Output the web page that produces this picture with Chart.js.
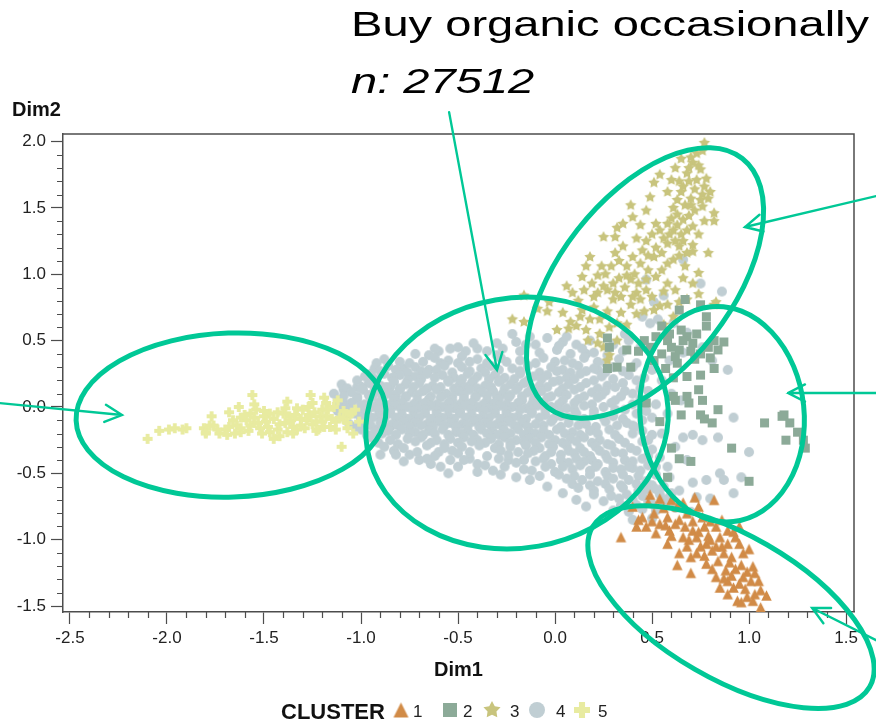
<!DOCTYPE html>
<html>
<head>
<meta charset="utf-8">
<script src="https://cdn.jsdelivr.net/npm/chart.js@4.4.1/dist/chart.umd.min.js"></script>
<style>
  html, body { margin: 0; padding: 0; background: #ffffff; }
  canvas { display: block; }
</style>
</head>
<body>
<canvas id="chart" width="876" height="726"></canvas>
<script>
// ---- Axis ticks -----------------------------------------------------------
const xMajorTicks = [-2.5, -2.0, -1.5, -1.0, -0.5, 0.0, 0.5, 1.0, 1.5];
const yMajorTicks = [-1.5, -1.0, -0.5, 0.0, 0.5, 1.0, 1.5, 2.0];
const xLimits = [-2.536, 1.541];
const yLimits = [-1.545, 2.057];

// ---- Cluster labels ---------------------------------------------------------
const clusterLabels = ['1', '2', '3', '4', '5'];

// ---- Cluster members (Dim1, Dim2) ------------------------------------------
const cluster1Points = [
  [0.49,-0.66],[0.54,-0.69],[0.40,-0.75],[0.34,-0.98],[0.43,-0.85],[0.47,-0.90],[0.51,-0.80],[0.54,-0.88],
  [0.58,-0.83],[0.59,-0.93],[0.63,-0.75],[0.64,-0.85],[0.67,-0.90],[0.62,-0.88],[0.66,-0.98],[0.69,-1.00],
  [0.71,-0.93],[0.73,-0.98],[0.74,-0.75],[0.77,-0.90],[0.78,-1.03],[0.79,-0.97],[0.82,-0.70],[0.83,-0.90],
  [0.83,-1.05],[0.85,-0.98],[0.87,-1.10],[0.89,-0.93],[0.89,-1.03],[0.91,-1.13],[0.93,-0.98],[0.95,-0.90],
  [0.95,-1.03],[0.97,-1.10],[0.96,-1.19],[1.00,-1.07],[0.99,-1.24],[1.02,-1.20],[1.01,-1.31],[1.05,-1.31],
  [1.06,-1.38],[1.03,-1.41],[1.09,-1.42],[0.99,-1.43],[1.06,-1.51],[0.83,-1.28],[0.85,-1.36],[0.89,-1.31],
  [0.92,-1.36],[0.95,-1.33],[0.89,-1.41],[0.94,-1.46],[0.96,-1.47],[0.63,-1.19],[0.70,-1.25],[0.73,-1.10],
  [0.78,-1.18],[0.81,-1.08],[0.42,-0.90],[0.45,-0.83],[0.52,-0.95],[0.58,-1.03],[0.64,-1.10],[0.70,-1.13],
  [0.75,-1.05],[0.92,-0.94],[0.56,-0.76],[0.60,-0.70],[0.68,-0.80],[0.71,-0.86],[0.76,-0.83],[0.80,-0.86],
  [0.86,-0.85],[0.60,-0.97],[0.68,-1.05],[0.74,-0.94],[0.80,-1.00],[0.86,-1.05],[0.90,-1.17],[0.84,-1.16],
  [0.93,-1.22],[0.97,-1.28],[1.03,-1.25],[0.88,-1.23],[0.91,-1.27],[0.98,-1.37],[1.02,-1.46],[0.48,-0.72],
  [0.66,-0.72],[0.72,-0.68],[0.57,-0.89],[0.50,-0.86],[0.77,-1.12],[0.81,-1.22],[0.87,-1.29]
];

const cluster2Points = [
  [0.67,0.81],[0.75,0.77],[0.64,0.73],[0.78,0.68],[0.55,0.61],[0.59,0.55],[0.65,0.58],[0.68,0.53],
  [0.73,0.55],[0.78,0.61],[0.82,0.50],[0.87,0.49],[0.84,0.43],[0.71,0.48],[0.75,0.40],[0.64,0.43],
  [0.58,0.50],[0.52,0.53],[0.49,0.45],[0.46,0.50],[0.43,0.42],[0.37,0.43],[0.39,0.30],[0.32,0.30],
  [0.27,0.52],[0.27,0.29],[0.28,0.45],[0.51,0.35],[0.57,0.29],[0.63,0.33],[0.61,0.22],[0.68,0.23],
  [0.75,0.24],[0.82,0.29],[0.74,0.13],[0.68,0.08],[0.61,0.08],[0.84,-0.02],[0.65,-0.06],[0.75,-0.06],
  [1.18,-0.06],[0.62,0.05],[0.69,0.03],[0.76,0.05],[0.77,-0.09],[0.81,-0.12],[0.54,-0.11],[0.47,0.03],
  [1.08,-0.12],[1.17,-0.07],[1.21,-0.12],[1.25,-0.19],[1.19,-0.25],[1.28,-0.25],[1.29,-0.31],[0.91,-0.31],
  [0.60,-0.31],[0.64,-0.39],[0.70,-0.41],[0.58,-0.53],[1.00,-0.56],[0.60,0.45],[0.66,0.50],[0.70,0.42],
  [0.79,0.45],[0.55,0.40],[0.62,0.38],[0.72,0.36],[0.80,0.37]
];

const cluster3Points = [
  [0.77,1.99],[0.73,1.91],[0.65,1.87],[0.71,1.84],[0.75,1.79],[0.68,1.76],[0.60,1.71],[0.73,1.71],
  [0.77,1.66],[0.65,1.62],[0.70,1.57],[0.63,1.56],[0.75,1.56],[0.79,1.57],[0.51,1.69],[0.49,1.58],
  [0.61,1.50],[0.47,1.48],[0.39,1.52],[0.40,1.43],[0.82,1.46],[0.82,1.40],[0.66,1.41],[0.71,1.36],
  [0.61,1.33],[0.65,1.30],[0.54,1.33],[0.32,1.35],[0.25,1.28],[0.31,1.28],[0.42,1.27],[0.47,1.25],
  [0.52,1.20],[0.58,1.23],[0.64,1.21],[0.71,1.22],[0.71,1.17],[0.79,1.16],[0.31,1.16],[0.35,1.21],
  [0.40,1.13],[0.44,1.08],[0.51,1.13],[0.61,1.11],[0.67,1.06],[0.18,1.13],[0.16,1.06],[0.22,0.99],
  [0.29,1.06],[0.37,1.06],[0.37,0.99],[0.43,0.93],[0.47,0.96],[0.58,0.93],[0.62,0.88],[0.71,0.93],
  [0.74,1.01],[0.14,0.98],[0.06,0.91],[0.09,0.86],[0.15,0.88],[0.22,0.86],[0.27,0.88],[0.34,0.83],
  [0.39,0.77],[0.42,0.86],[0.50,0.83],[0.51,0.73],[0.58,0.77],[0.64,0.79],[0.82,0.77],[0.83,0.79],
  [-0.03,0.79],[-0.04,0.72],[-0.09,0.74],[-0.16,0.84],[-0.22,0.66],[-0.16,0.64],[0.01,0.58],[0.07,0.59],
  [0.16,0.58],[0.17,0.50],[0.23,0.55],[0.25,0.45],[0.28,0.39],[0.32,0.63],[0.34,0.71],[0.23,0.66],
  [0.13,0.68],[0.11,0.61],[0.18,0.66],[0.61,0.68],[0.68,0.81],[0.54,0.76],[0.04,0.71],[0.25,0.91],
  [0.30,0.81],[0.44,0.81],[0.39,0.96],[0.27,0.35],[0.32,0.50],[0.70,1.88],[0.74,1.82],[0.69,1.70],
  [0.66,1.66],[0.72,1.64],[0.78,1.72],[0.80,1.62],[0.67,1.52],[0.72,1.48],[0.76,1.51],[0.63,1.45],
  [0.58,1.38],[0.68,1.33],[0.74,1.30],[0.56,1.27],[0.62,1.25],[0.68,1.16],[0.55,1.16],[0.45,1.18],
  [0.48,1.03],[0.55,1.03],[0.33,1.10],[0.26,1.00],[0.19,0.93],[0.30,0.93],[0.12,0.80],[0.20,0.75],
  [0.27,0.72],[0.46,0.72],[0.36,0.90],[0.56,0.62],[0.74,0.85],[0.66,0.97],[0.52,1.38],[0.44,1.37],
  [0.35,1.38],[0.58,1.62],[0.54,1.75],[0.62,1.80],
  [0.76,1.93],[0.69,1.80],[0.64,1.70],[0.76,1.60],[0.70,1.52],[0.60,1.42],[0.69,1.44],[0.77,1.40],
  [0.63,1.37],[0.50,1.30],[0.59,1.30],[0.66,1.25],[0.48,1.14],[0.58,1.08],[0.64,1.14],[0.41,1.00],
  [0.52,0.98],[0.33,0.97],[0.24,1.06],[0.20,0.83],[0.31,0.86],[0.40,0.83],[0.47,0.88],[0.56,0.87],
  [0.08,0.64],[0.14,0.73],[0.28,0.60],[0.37,0.62],[0.42,0.70],[0.22,0.48]
];

const cluster4Points = [
  // upper right, among clusters 2 and 3
  [0.66,1.11],[0.75,0.93],[0.86,0.87],[0.47,0.96],[0.51,0.79],[0.56,0.84],[0.45,0.68],[0.53,0.66],
  [0.61,0.63],[0.68,0.56],[0.76,0.45],[0.89,0.28],[0.81,0.35],[0.66,0.41],[0.59,0.35],[0.49,0.63],
  [0.42,0.33],[0.50,0.28],[0.55,0.20],[0.48,0.12],[0.60,0.10],[0.52,0.02],[0.45,-0.10],[0.58,-0.05],
  [0.65,0.05],[0.55,-0.20],[0.62,-0.30],[0.50,-0.32],[0.68,-0.40],[0.58,-0.45],
  [0.40,0.30],[0.46,0.22],[0.36,0.12],[0.44,0.06],[0.50,-0.08],[0.40,-0.14],[0.48,-0.25],[0.54,-0.38],
  [0.52,-0.45],[0.40,-0.46],[0.56,-0.60],[0.60,-0.65],[0.47,-0.62],[0.55,-0.70],
  // right of the main cloud
  [0.66,-0.23],[0.71,-0.21],[0.76,-0.25],[0.84,-0.23],[0.92,-0.08],[0.96,-0.53],[1.00,-0.34],[0.92,-0.65],
  [0.85,-0.50],[0.78,-0.55],[0.71,-0.57],[0.59,-0.53],[0.64,-0.63],[0.73,-0.68],[0.80,-0.69],[0.87,-0.55],
  // left edge
  [-1.14,0.10],[-1.09,0.03],[-1.02,0.15],[-0.95,0.25],[-0.94,0.08],[-0.90,-0.05],[-0.95,-0.22],[-0.85,-0.15],
  [-1.00,-0.02],[-1.00,0.15],[-1.09,0.13],[-1.02,0.08],[-1.12,0.00],[-1.06,-0.05],[-0.99,-0.10],[-0.92,-0.17],
  // upper rim
  [-0.65,0.39],[-0.54,0.44],[-0.59,0.33],[-0.46,0.42],[-0.40,0.44],[-0.30,0.48],[-0.22,0.55],[-0.20,0.49],
  [-0.13,0.53],[-0.10,0.47],[-0.04,0.52],[0.01,0.43],[0.04,0.49],[0.11,0.47],[0.16,0.40],[0.22,0.28],
  [-0.78,0.29],[-0.75,0.23],[-0.85,0.15],[-0.82,0.08],
  [-0.72,0.40],[-0.60,0.42],[-0.50,0.45],[-0.42,0.48],[-0.35,0.42],[-0.27,0.44],[-0.18,0.42],[-0.08,0.41],
  [0.02,0.46],[0.08,0.40],[0.14,0.44],[0.20,0.41],[0.27,0.39],[0.35,0.42],[-0.48,0.38],[-0.30,0.39],
  [-0.15,0.47],[0.06,0.53],[0.18,0.50],[0.30,0.47],[0.38,0.50],[0.44,0.45],[0.36,0.55],[-0.62,0.44],
  [-0.88,0.36],[-0.92,0.33],
  // lower rim
  [-0.70,-0.40],[-0.59,-0.45],[-0.54,-0.40],[-0.40,-0.43],[-0.32,-0.48],[-0.20,-0.53],[-0.13,-0.55],
  [-0.04,-0.60],[0.04,-0.65],[0.11,-0.70],[0.16,-0.75],
  [-0.78,-0.41],[-0.64,-0.43],[-0.50,-0.45],[-0.44,-0.39],[-0.36,-0.44],[-0.26,-0.45],[-0.24,-0.40],[-0.16,-0.47],
  [-0.08,-0.52],[-0.28,-0.51],[-0.40,-0.49],[-0.55,-0.50],[-0.90,-0.36],[-0.75,-0.36],[-0.60,-0.34],
  // main body
  [-0.80,0.34],[-0.62,0.37],[-0.55,0.35],[-0.40,0.36],[-0.28,0.37],[-0.18,0.35],[-0.06,0.37],[0.05,0.35],
  [0.15,0.37],[0.22,0.34],[0.33,0.36],
  [-0.75,0.33],[-0.68,0.34],[-0.50,0.33],[-0.44,0.34],[-0.35,0.33],[-0.25,0.34],[-0.10,0.33],[0.00,0.34],
  [0.09,0.33],[0.26,0.33],
  [-0.93,0.29],[-0.86,0.31],[-0.72,0.30],[-0.65,0.28],[-0.57,0.31],[-0.48,0.30],[-0.38,0.29],[-0.33,0.31],
  [-0.22,0.29],[-0.14,0.31],[-0.02,0.30],[0.04,0.28],[0.12,0.31],[0.20,0.29],[0.30,0.30],
  [-0.90,0.27],[-0.82,0.28],[-0.76,0.26],[-0.69,0.27],[-0.61,0.28],[-0.53,0.26],[-0.44,0.27],[-0.36,0.26],
  [-0.29,0.28],[-0.18,0.27],[-0.08,0.26],[0.01,0.27],[0.08,0.26],[0.16,0.27],[0.26,0.26],[0.35,0.27],
  [-0.98,0.23],[-0.88,0.25],[-0.80,0.24],[-0.72,0.23],[-0.66,0.25],[-0.58,0.24],[-0.52,0.22],[-0.45,0.25],
  [-0.40,0.23],[-0.31,0.24],[-0.26,0.22],[-0.18,0.25],[-0.11,0.23],[-0.04,0.24],[0.06,0.22],[0.13,0.25],
  [0.24,0.23],[0.38,0.24],
  [-1.02,0.20],[-0.93,0.21],[-0.84,0.22],[-0.76,0.20],[-0.69,0.21],[-0.62,0.22],[-0.55,0.20],[-0.48,0.21],
  [-0.42,0.20],[-0.34,0.21],[-0.28,0.20],[-0.21,0.21],[-0.14,0.20],[-0.07,0.21],[0.02,0.20],[0.10,0.21],
  [0.20,0.20],[0.30,0.21],[0.42,0.20],
  [-1.10,0.17],[-0.96,0.18],[-0.90,0.16],[-0.83,0.19],[-0.77,0.17],[-0.70,0.18],[-0.63,0.16],[-0.55,0.19],
  [-0.49,0.17],[-0.43,0.18],[-0.36,0.16],[-0.29,0.19],[-0.23,0.17],[-0.16,0.18],[-0.08,0.16],[-0.01,0.19],
  [0.07,0.17],[0.16,0.18],[0.27,0.16],[0.35,0.18],
  [-1.07,0.14],[-1.00,0.15],[-0.93,0.14],[-0.87,0.15],[-0.80,0.14],[-0.73,0.15],[-0.66,0.14],[-0.59,0.15],
  [-0.52,0.14],[-0.46,0.15],[-0.40,0.14],[-0.33,0.15],[-0.26,0.14],[-0.19,0.15],[-0.12,0.14],[-0.04,0.15],
  [0.04,0.14],[0.13,0.15],[0.22,0.14],[0.31,0.15],[0.44,0.14],
  [-1.05,0.11],[-0.99,0.13],[-0.92,0.12],[-0.86,0.10],[-0.80,0.13],[-0.74,0.11],[-0.68,0.12],[-0.61,0.13],
  [-0.56,0.10],[-0.50,0.12],[-0.44,0.13],[-0.38,0.11],[-0.32,0.12],[-0.27,0.10],[-0.20,0.13],[-0.14,0.11],
  [-0.07,0.12],[0.02,0.11],[0.10,0.13],[0.19,0.11],[0.26,0.12],[0.40,0.10],
  [-1.09,0.08],[-0.96,0.09],[-0.89,0.08],[-0.83,0.09],[-0.77,0.08],[-0.71,0.09],[-0.64,0.08],[-0.58,0.09],
  [-0.53,0.08],[-0.47,0.09],[-0.41,0.08],[-0.35,0.09],[-0.30,0.08],[-0.23,0.09],[-0.17,0.08],[-0.10,0.09],
  [-0.02,0.08],[0.06,0.09],[0.15,0.08],[0.24,0.09],[0.34,0.08],
  [-1.12,0.05],[-1.02,0.06],[-0.95,0.07],[-0.89,0.05],[-0.83,0.06],[-0.77,0.07],[-0.71,0.05],[-0.65,0.06],
  [-0.59,0.07],[-0.53,0.05],[-0.47,0.06],[-0.41,0.07],[-0.35,0.05],[-0.29,0.06],[-0.24,0.07],[-0.17,0.05],
  [-0.11,0.06],[-0.04,0.07],[0.04,0.05],[0.12,0.06],[0.22,0.07],[0.31,0.05],
  [-1.05,0.03],[-0.98,0.02],[-0.91,0.03],[-0.85,0.02],[-0.79,0.03],[-0.73,0.02],[-0.67,0.03],[-0.61,0.02],
  [-0.55,0.03],[-0.49,0.02],[-0.43,0.03],[-0.37,0.02],[-0.31,0.03],[-0.25,0.02],[-0.19,0.03],[-0.12,0.02],
  [-0.06,0.03],[0.02,0.02],[0.10,0.03],[0.19,0.02],[0.29,0.03],[0.40,0.02],
  [-1.08,-0.01],[-1.00,0.01],[-0.94,0.00],[-0.88,-0.01],[-0.82,0.01],[-0.76,0.00],[-0.70,-0.01],[-0.64,0.01],
  [-0.58,0.00],[-0.52,-0.01],[-0.46,0.01],[-0.40,0.00],[-0.34,-0.01],[-0.28,0.01],[-0.22,0.00],[-0.15,-0.01],
  [-0.09,0.01],[-0.02,0.00],[0.06,-0.01],[0.15,0.01],[0.25,0.00],[0.36,-0.02],
  [-1.12,-0.03],[-1.04,-0.02],[-0.97,-0.03],[-0.91,-0.02],[-0.85,-0.03],[-0.79,-0.02],[-0.73,-0.03],[-0.67,-0.02],
  [-0.61,-0.03],[-0.55,-0.02],[-0.49,-0.03],[-0.43,-0.02],[-0.37,-0.03],[-0.31,-0.02],[-0.25,-0.03],[-0.18,-0.02],
  [-0.12,-0.03],[-0.05,-0.02],[0.02,-0.03],[0.10,-0.02],[0.20,-0.03],[0.31,-0.02],[0.47,-0.03],
  [-1.10,-0.07],[-1.03,-0.05],[-0.97,-0.06],[-0.91,-0.07],[-0.85,-0.05],[-0.79,-0.06],[-0.73,-0.07],[-0.67,-0.05],
  [-0.61,-0.06],[-0.55,-0.07],[-0.49,-0.05],[-0.43,-0.06],[-0.37,-0.07],[-0.31,-0.05],[-0.25,-0.06],[-0.19,-0.07],
  [-0.12,-0.05],[-0.05,-0.06],[0.03,-0.07],[0.11,-0.05],[0.20,-0.06],[0.30,-0.07],[0.42,-0.05],
  [-1.00,-0.09],[-0.94,-0.08],[-0.88,-0.09],[-0.82,-0.08],[-0.76,-0.09],[-0.70,-0.08],[-0.64,-0.09],[-0.58,-0.08],
  [-0.52,-0.09],[-0.46,-0.08],[-0.40,-0.09],[-0.34,-0.08],[-0.28,-0.09],[-0.22,-0.08],[-0.15,-0.09],[-0.08,-0.08],
  [-0.01,-0.09],[0.07,-0.08],[0.15,-0.09],[0.25,-0.08],[0.35,-0.09],
  [-1.06,-0.13],[-0.98,-0.11],[-0.90,-0.12],[-0.84,-0.13],[-0.78,-0.11],[-0.72,-0.12],[-0.66,-0.13],[-0.60,-0.11],
  [-0.54,-0.12],[-0.48,-0.13],[-0.42,-0.11],[-0.36,-0.12],[-0.30,-0.13],[-0.24,-0.11],[-0.17,-0.12],[-0.10,-0.13],
  [-0.02,-0.11],[0.07,-0.12],[0.16,-0.13],[0.26,-0.11],[0.37,-0.12],
  [-1.03,-0.15],[-0.95,-0.14],[-0.88,-0.15],[-0.81,-0.14],[-0.75,-0.15],[-0.69,-0.14],[-0.63,-0.15],[-0.57,-0.14],
  [-0.51,-0.15],[-0.45,-0.14],[-0.39,-0.15],[-0.33,-0.14],[-0.27,-0.15],[-0.21,-0.14],[-0.14,-0.15],[-0.06,-0.14],
  [0.03,-0.15],[0.12,-0.14],[0.21,-0.15],[0.32,-0.14],[0.41,-0.15],
  [-1.00,-0.17],[-0.93,-0.19],[-0.86,-0.18],[-0.79,-0.17],[-0.72,-0.19],[-0.65,-0.18],[-0.58,-0.17],[-0.51,-0.19],
  [-0.45,-0.18],[-0.38,-0.17],[-0.32,-0.19],[-0.26,-0.18],[-0.19,-0.17],[-0.13,-0.19],[-0.06,-0.18],[0.01,-0.17],
  [0.09,-0.19],[0.18,-0.18],[0.28,-0.17],[0.45,-0.18],
  [-0.97,-0.21],[-0.89,-0.20],[-0.82,-0.21],[-0.75,-0.20],[-0.68,-0.21],[-0.62,-0.20],[-0.55,-0.21],[-0.48,-0.20],
  [-0.42,-0.21],[-0.35,-0.20],[-0.29,-0.21],[-0.23,-0.20],[-0.16,-0.21],[-0.10,-0.20],[-0.03,-0.21],[0.05,-0.20],
  [0.13,-0.21],[0.22,-0.20],[0.31,-0.21],[0.40,-0.20],[0.50,-0.21],
  [-0.95,-0.23],[-0.85,-0.25],[-0.76,-0.24],[-0.69,-0.23],[-0.61,-0.25],[-0.54,-0.24],[-0.47,-0.23],[-0.40,-0.25],
  [-0.33,-0.24],[-0.26,-0.23],[-0.20,-0.25],[-0.13,-0.24],[-0.07,-0.23],[0.00,-0.25],[0.08,-0.24],[0.15,-0.23],
  [0.23,-0.25],[0.33,-0.24],
  [-0.91,-0.27],[-0.81,-0.28],[-0.72,-0.26],[-0.64,-0.27],[-0.57,-0.28],[-0.50,-0.27],[-0.43,-0.26],[-0.36,-0.27],
  [-0.29,-0.28],[-0.23,-0.27],[-0.16,-0.26],[-0.10,-0.27],[-0.03,-0.28],[0.04,-0.27],[0.11,-0.26],[0.19,-0.27],
  [0.27,-0.28],[0.36,-0.27],[0.45,-0.26],
  [-0.88,-0.30],[-0.78,-0.31],[-0.66,-0.29],[-0.57,-0.31],[-0.48,-0.30],[-0.39,-0.29],[-0.31,-0.31],[-0.23,-0.30],
  [-0.15,-0.29],[-0.08,-0.31],[-0.01,-0.30],[0.06,-0.29],[0.13,-0.31],[0.21,-0.30],[0.29,-0.29],[0.39,-0.31],
  [-0.83,-0.33],[-0.71,-0.34],[-0.53,-0.33],[-0.44,-0.34],[-0.28,-0.33],[-0.19,-0.34],[-0.11,-0.33],[-0.02,-0.34],
  [0.07,-0.33],[0.15,-0.34],[0.23,-0.33],[0.31,-0.34],[0.42,-0.33],
  [-0.82,-0.36],[-0.62,-0.37],[-0.50,-0.35],[-0.35,-0.37],[-0.24,-0.36],[-0.14,-0.35],[-0.05,-0.37],[0.03,-0.36],
  [0.10,-0.35],[0.18,-0.37],[0.26,-0.36],[0.35,-0.35],[0.48,-0.37],
  [-0.66,-0.39],[-0.47,-0.40],[-0.29,-0.39],[-0.16,-0.40],[-0.06,-0.39],[0.03,-0.40],[0.11,-0.39],[0.19,-0.40],
  [0.27,-0.39],[0.36,-0.40],[0.45,-0.39],
  [-0.20,-0.42],[-0.10,-0.41],[-0.02,-0.43],[0.07,-0.42],[0.15,-0.41],[0.22,-0.43],[0.30,-0.42],[0.40,-0.41],
  [-0.05,-0.45],[0.04,-0.45],[0.13,-0.44],[0.21,-0.45],[0.30,-0.46],[0.38,-0.45],[0.48,-0.44],
  [-0.12,-0.48],[0.00,-0.49],[0.09,-0.47],[0.18,-0.48],[0.26,-0.49],[0.34,-0.47],[0.44,-0.48],
  [0.02,-0.51],[0.10,-0.52],[0.18,-0.51],[0.27,-0.52],[0.35,-0.51],[0.43,-0.52],[0.52,-0.51],
  [0.06,-0.54],[0.14,-0.55],[0.22,-0.56],[0.30,-0.54],[0.38,-0.55],[0.47,-0.56],
  [0.09,-0.58],[0.18,-0.59],[0.26,-0.58],[0.34,-0.59],[0.42,-0.58],[0.50,-0.59],
  [0.12,-0.61],[0.20,-0.63],[0.28,-0.62],[0.35,-0.61],[0.43,-0.63],[0.52,-0.62],
  [0.20,-0.66],[0.29,-0.67],[0.37,-0.66],[0.45,-0.67],[0.54,-0.66],
  [0.25,-0.71],[0.33,-0.69],[0.40,-0.70],[0.48,-0.71],[0.58,-0.69],
  [0.34,-0.74],[0.42,-0.74],[0.50,-0.73],[0.57,-0.74],
  [0.30,-0.78],[0.38,-0.79],[0.45,-0.77],[0.52,-0.78],[0.62,-0.76],[0.70,-0.79],
  [0.40,-0.85],[0.50,-0.84]
];

const cluster5Points = [
  [-2.10,-0.24],[-2.04,-0.18],[-1.99,-0.17],[-1.96,-0.16],[-1.92,-0.17],[-1.90,-0.16],[-1.81,-0.16],[-1.80,-0.19],
  [-1.77,-0.07],[-1.76,-0.14],[-1.74,-0.17],[-1.69,-0.21],[-1.68,-0.15],[-1.64,-0.14],[-1.63,0.00],[-1.62,-0.19],
  [-1.59,-0.10],[-1.57,-0.05],[-1.56,0.09],[-1.55,-0.12],[-1.54,-0.02],[-1.52,-0.16],[-1.50,-0.07],[-1.49,-0.11],
  [-1.47,-0.19],[-1.45,-0.24],[-1.43,-0.04],[-1.42,-0.22],[-1.39,-0.12],[-1.38,0.04],[-1.37,-0.07],[-1.35,-0.15],
  [-1.33,-0.01],[-1.31,-0.09],[-1.29,-0.16],[-1.27,-0.06],[-1.26,0.09],[-1.25,0.03],[-1.23,-0.11],[-1.22,-0.17],
  [-1.20,-0.02],[-1.19,0.07],[-1.18,-0.07],[-1.16,-0.15],[-1.14,0.00],[-1.13,-0.11],[-1.10,-0.30],[-1.09,-0.09],
  [-1.07,-0.16],[-1.06,-0.06],[-1.04,-0.20],[-1.01,-0.11],
  [-1.70,-0.17],[-1.66,-0.10],[-1.62,-0.16],[-1.60,-0.06],[-1.58,-0.18],[-1.55,-0.08],[-1.53,-0.12],[-1.50,-0.03],
  [-1.48,-0.15],[-1.45,-0.09],[-1.43,-0.17],[-1.40,-0.05],[-1.38,-0.19],[-1.36,-0.10],[-1.34,-0.06],[-1.31,-0.14],
  [-1.30,-0.02],[-1.28,-0.10],[-1.25,-0.13],[-1.24,-0.04],[-1.21,-0.07],[-1.19,-0.15],[-1.17,-0.02],[-1.15,-0.09],
  [-1.13,-0.17],[-1.12,0.05],[-1.09,-0.03],[-1.07,-0.12],[-1.05,-0.05],[-1.80,-0.20],[-1.78,-0.14],[-1.73,-0.20],
  [-1.68,-0.04],[-1.65,-0.20],[-1.57,-0.14],[-1.51,-0.20],[-1.47,-0.05],[-1.42,-0.13],[-1.35,-0.20],[-1.27,0.00],
  [-1.23,-0.18],[-1.18,0.03],[-1.11,-0.08],[-1.03,-0.02],[-1.62,-0.08],[-1.55,0.02],[-1.39,-0.01],[-1.33,-0.17],
  [-1.26,-0.07],[-1.20,-0.11]
];

// ---- Highlighted groups and pointers (Dim1/Dim2 anchors, pixel radii) ------
const groupEllipses = [
  { center: [-1.670, -0.061], rx: 155, ry: 82,  rotate: -2 },
  { center: [-0.196, -0.121], rx: 152, ry: 125, rotate: -10 },
  { center: [0.464, 0.934],   rx: 158, ry: 86,  rotate: -52 },
  { center: [0.861, -0.054],  rx: 82,  ry: 108, rotate: -6 },
  { center: [0.907, -1.508],  rx: 160, ry: 72,  rotate: 30 }
];
const pointerArrows = [
  { from: [-2.861, 0.029], to: [-2.232, -0.061] },
  { from: [-0.546, 2.222], to: [-0.299, 0.278] },
  { from: [1.655, 1.589],  to: [0.979, 1.356] },
  { from: [1.655, 0.105],  to: [1.201, 0.105] },
  { from: [1.675, -1.772], to: [1.325, -1.515] }
];

// ---- Styling ---------------------------------------------------------------
const FONT = '"Liberation Sans", Arial, Helvetica, sans-serif';
const ACCENT = '#00c896';
const clusterStyles = [
  { shape: 'triangle', color: '#d18b47', size: 10.5 },
  { shape: 'square',   color: '#8caa98', size: 9 },
  { shape: 'star',     color: '#c8c47d', size: 12 },
  { shape: 'circle',   color: '#c0ced3', size: 10 },
  { shape: 'plus',     color: '#e8eba0', size: 10 }
];

function makeMarker(shape, size, color) {
  const c = document.createElement('canvas');
  const dim = Math.ceil(size) + 2;
  c.width = dim; c.height = dim;
  const g = c.getContext('2d');
  const m = dim / 2, r = size / 2;
  g.fillStyle = color;
  g.beginPath();
  if (shape === 'triangle') {
    g.moveTo(m, m - r);
    g.lineTo(m + r, m + r);
    g.lineTo(m - r, m + r);
    g.closePath();
  } else if (shape === 'square') {
    g.rect(m - r, m - r, size, size);
  } else if (shape === 'star') {
    for (let i = 0; i < 10; i++) {
      const a = -Math.PI / 2 + i * Math.PI / 5;
      const rr = i % 2 ? r * 0.52 : r;
      const px = m + rr * Math.cos(a), py = m + rr * Math.sin(a);
      if (i === 0) g.moveTo(px, py); else g.lineTo(px, py);
    }
    g.closePath();
  } else if (shape === 'circle') {
    g.arc(m, m, r, 0, Math.PI * 2);
  } else if (shape === 'plus') {
    const t = size * 0.38;
    g.rect(m - t / 2, m - r, t, size);
    g.rect(m - r, m - t / 2, size, t);
  }
  g.fill();
  return c;
}

const pointMarkers = clusterStyles.map(s => makeMarker(s.shape, s.size, s.color));
const legendMarkers = [
  makeMarker('triangle', 15, clusterStyles[0].color),
  makeMarker('square', 14, clusterStyles[1].color),
  makeMarker('star', 18, clusterStyles[2].color),
  makeMarker('circle', 16, clusterStyles[3].color),
  makeMarker('plus', 16, clusterStyles[4].color)
];

const clusterData = [cluster1Points, cluster2Points, cluster3Points, cluster4Points, cluster5Points];
// cluster 4 sits underneath, cluster 1 on top
const drawOrder = [1, 2, 3, 5, 4];

const datasets = clusterData.map((pts, i) => ({
  label: clusterLabels[i],
  data: pts.map(([x, y]) => ({ x, y })),
  pointStyle: pointMarkers[i],
  pointRadius: 5,
  pointHoverRadius: 5,
  backgroundColor: clusterStyles[i].color,
  borderColor: clusterStyles[i].color,
  order: drawOrder[i]
}));

// ---- Frame, minor ticks, legend and callouts -------------------------------
const decorations = {
  id: 'decorations',
  beforeDraw(chart) {
    const ctx = chart.ctx;
    ctx.save();
    ctx.fillStyle = '#ffffff';
    ctx.fillRect(0, 0, chart.width, chart.height);
    ctx.restore();
  },
  afterDraw(chart) {
    const { ctx, chartArea: a, scales: { x, y } } = chart;
    ctx.save();

    // plot frame (top and right sides)
    ctx.strokeStyle = '#4d4d4d';
    ctx.lineWidth = 1.5;
    ctx.beginPath();
    ctx.moveTo(a.left, a.top); ctx.lineTo(a.right, a.top); ctx.lineTo(a.right, a.bottom);
    ctx.stroke();

    // minor ticks, four between neighbouring major ticks
    ctx.lineWidth = 1.2;
    ctx.beginPath();
    for (let i = 0; i < xMajorTicks.length - 1; i++) {
      const s = (xMajorTicks[i + 1] - xMajorTicks[i]) / 5;
      for (let k = 1; k < 5; k++) {
        const px = Math.round(x.getPixelForValue(xMajorTicks[i] + k * s)) + 0.5;
        ctx.moveTo(px, a.bottom); ctx.lineTo(px, a.bottom + 6);
      }
    }
    for (let i = 0; i < yMajorTicks.length - 1; i++) {
      const s = (yMajorTicks[i + 1] - yMajorTicks[i]) / 5;
      for (let k = 1; k < 5; k++) {
        const py = Math.round(y.getPixelForValue(yMajorTicks[i] + k * s)) + 0.5;
        ctx.moveTo(a.left, py); ctx.lineTo(a.left - 6, py);
      }
    }
    ctx.stroke();

    // vertical axis title, set horizontally above the axis
    ctx.fillStyle = '#111111';
    ctx.font = `bold 20px ${FONT}`;
    ctx.textAlign = 'left';
    ctx.textBaseline = 'alphabetic';
    ctx.fillText('Dim2', 12, 116);

    // legend: CLUSTER and one marker + number per cluster
    const legendY = 710;
    ctx.font = `bold 22px ${FONT}`;
    ctx.fillText('CLUSTER', 281, 719);
    const markerX = [401, 450, 492, 537, 582];
    const labelX = [413, 463, 510, 556, 598];
    ctx.font = `17px ${FONT}`;
    ctx.fillStyle = '#222222';
    clusterLabels.forEach((lab, i) => {
      const mk = legendMarkers[i];
      ctx.drawImage(mk, markerX[i] - mk.width / 2, legendY - mk.height / 2);
      ctx.fillText(lab, labelX[i], 717);
    });

    // group outlines
    ctx.strokeStyle = ACCENT;
    ctx.lineWidth = 5;
    groupEllipses.forEach(e => {
      const cx = x.getPixelForValue(e.center[0]);
      const cy = y.getPixelForValue(e.center[1]);
      ctx.beginPath();
      ctx.ellipse(cx, cy, e.rx, e.ry, e.rotate * Math.PI / 180, 0, Math.PI * 2);
      ctx.stroke();
    });

    // pointers
    ctx.lineWidth = 2.4;
    ctx.lineCap = 'round';
    pointerArrows.forEach(p => {
      const x1 = x.getPixelForValue(p.from[0]), y1 = y.getPixelForValue(p.from[1]);
      const x2 = x.getPixelForValue(p.to[0]), y2 = y.getPixelForValue(p.to[1]);
      const ang = Math.atan2(y2 - y1, x2 - x1);
      const head = 19, spread = 0.47;
      ctx.beginPath();
      ctx.moveTo(x1, y1); ctx.lineTo(x2, y2);
      ctx.moveTo(x2 - head * Math.cos(ang - spread), y2 - head * Math.sin(ang - spread));
      ctx.lineTo(x2, y2);
      ctx.lineTo(x2 - head * Math.cos(ang + spread), y2 - head * Math.sin(ang + spread));
      ctx.stroke();
    });

    // headline for the central group
    ctx.fillStyle = '#000000';
    ctx.font = `35px ${FONT}`;
    ctx.save();
    ctx.translate(351, 36);
    ctx.scale(1.345, 1);
    ctx.fillText('Buy organic occasionally', 0, 0);
    ctx.restore();
    ctx.font = `italic 35px ${FONT}`;
    ctx.save();
    ctx.translate(351, 93);
    ctx.scale(1.345, 1);
    ctx.fillText('n: 27512', 0, 0);
    ctx.restore();

    ctx.restore();
  }
};

const tickFont = { family: FONT, size: 17 };

new Chart(document.getElementById('chart'), {
  type: 'scatter',
  data: { datasets },
  options: {
    responsive: false,
    animation: false,
    events: [],
    layout: { padding: { top: 134, right: 22, left: 0, bottom: 0 } },
    plugins: {
      legend: { display: false },
      tooltip: { enabled: false }
    },
    scales: {
      x: {
        type: 'linear',
        min: xLimits[0],
        max: xLimits[1],
        afterBuildTicks: s => { s.ticks = xMajorTicks.map(v => ({ value: v })); },
        afterFit: s => { s.height = 114; },
        ticks: {
          autoSkip: false, maxRotation: 0, padding: 4,
          font: tickFont, color: '#222222',
          callback: v => Number(v).toFixed(1)
        },
        grid: { drawOnChartArea: false, tickLength: 12, tickColor: '#4d4d4d', tickWidth: 1.2 },
        border: { color: '#4d4d4d', width: 1.5 },
        title: {
          display: true, text: 'Dim1', color: '#111111',
          font: { family: FONT, size: 20, weight: 'bold' },
          padding: { top: 0, bottom: 44 }
        }
      },
      y: {
        type: 'linear',
        min: yLimits[0],
        max: yLimits[1],
        afterBuildTicks: s => { s.ticks = yMajorTicks.map(v => ({ value: v })); },
        afterFit: s => { s.width = 63; },
        ticks: {
          autoSkip: false, padding: 5,
          font: tickFont, color: '#222222',
          callback: v => Number(v).toFixed(1)
        },
        grid: { drawOnChartArea: false, tickLength: 12, tickColor: '#4d4d4d', tickWidth: 1.2 },
        border: { color: '#4d4d4d', width: 1.5 }
      }
    }
  },
  plugins: [decorations]
});
</script>
</body>
</html>
